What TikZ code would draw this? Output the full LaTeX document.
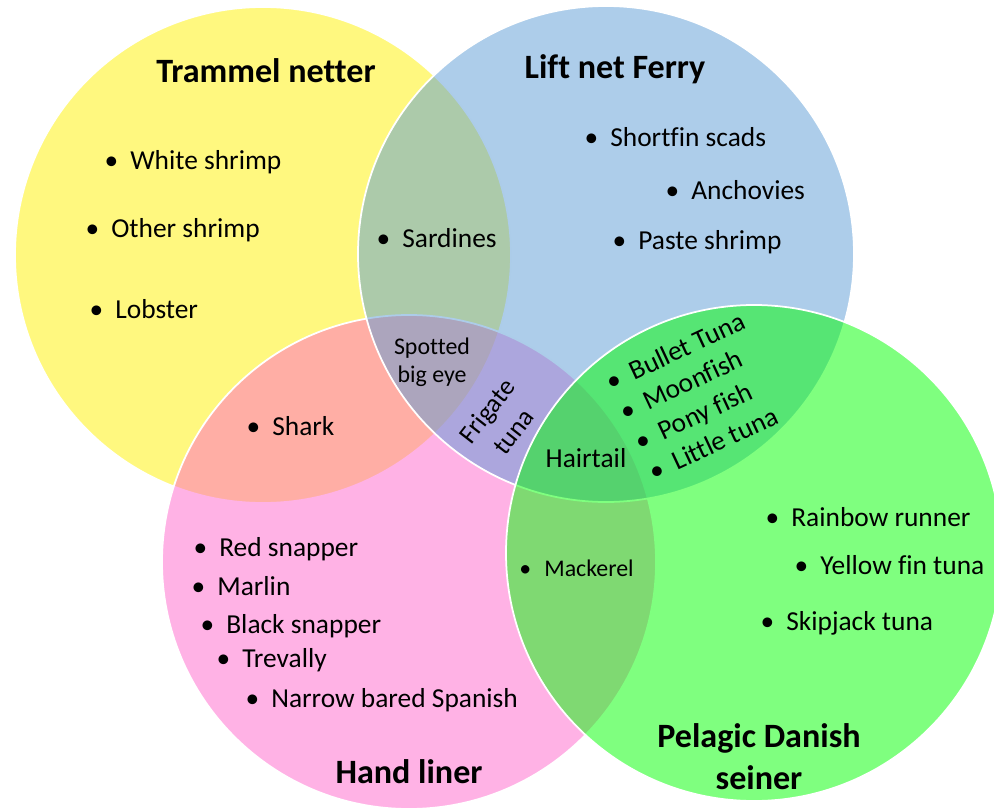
\documentclass[tikz,border=0pt]{standalone}
\usepackage{fontspec}
\setmainfont{Carlito}[Ligatures=NoCommon]
\newcommand{\itm}[1]{\makebox[0pt]{\textbullet}\hspace{10.8pt}#1}
\tikzset{
  set/.style={draw=white, line width=1pt, fill opacity=0.5},
  title/.style={font=\bfseries\fontsize{19.4}{24}\selectfont, inner sep=0pt},
  fish/.style={anchor=west, inner sep=0pt, text height=13pt, text depth=2pt,
    font=\fontsize{15.6}{18}\selectfont},
  small/.style={inner sep=0pt, font=\fontsize{13.6}{16}\selectfont},
}
\definecolor{setblue}{HTML}{5B9BD5}
\definecolor{setpink}{HTML}{FF66CC}
\definecolor{setgreen}{HTML}{00FF00}
\begin{document}
\begin{tikzpicture}[x=0.02cm, y=-0.02cm]
  \useasboundingbox (0,0) rectangle (994,808);
  \clip (0,0) rectangle (994,808);
  % the four sets
  \draw[set, fill=yellow] (263,255) circle[radius=248];
  \draw[set, fill=setpink] (409,562) circle[radius=247];
  \draw[set, fill=setblue] (606,254) circle[radius=248];
  \draw[set, fill=setgreen] (754,553) circle[radius=248];
  % titles
  \node[title, anchor=base] (trammel) at (266,82) {Trammel netter};
  \node[title, anchor=base] (liftnet) at (615,78) {Lift net Ferry};
  \node[title, anchor=base] (handliner) at (409,783) {Hand liner};
  \node[title, align=center] (pelagic) at (759,757) {Pelagic Danish\\seiner};
  % Trammel netter
  \node[fish] (whiteshrimp) at (111,160) {\itm{White shrimp}};
  \node[fish] (othershrimp) at (92,228) {\itm{Other shrimp}};
  \node[fish] (lobster) at (96,309) {\itm{Lobster}};
  \node[fish] (sardines) at (383,238) {\itm{Sardines}};
  % Lift net Ferry
  \node[fish] (shortfin) at (591,137) {\itm{Shortfin scads}};
  \node[fish] (anchovies) at (672,190) {\itm{Anchovies}};
  \node[fish] (paste) at (619,240) {\itm{Paste shrimp}};
  % overlaps in the middle
  \node[fish] (shark) at (253,426) {\itm{Shark}};
  \node[small, align=center] (bigeye) at (432,362) {Spotted\\big eye};
  \node[inner sep=0pt, font=\fontsize{15}{19}\selectfont, align=center, rotate=52]
    (frigate) at (500,421) {Frigate\\tuna};
  \node[fish, anchor=base] (hairtail) at (586,467) {Hairtail};
  \node[fish, small, anchor=west] (mackerel) at (525,567) {\itm{Mackerel}};
  \node[fish, rotate=25] (bullet) at (613,380) {\itm{Bullet Tuna}};
  \node[fish, rotate=25] (moonfish) at (627,410) {\itm{Moonfish}};
  \node[fish, rotate=25] (ponyfish) at (642,440) {\itm{Pony fish}};
  \node[fish, rotate=25] (littletuna) at (656,470) {\itm{Little tuna}};
  % Hand liner
  \node[fish] (redsnapper) at (200,547) {\itm{Red snapper}};
  \node[fish] (marlin) at (198,586) {\itm{Marlin}};
  \node[fish] (blacksnapper) at (207,624) {\itm{Black snapper}};
  \node[fish] (trevally) at (223,658) {\itm{Trevally}};
  \node[fish] (spanish) at (252,698) {\itm{Narrow bared Spanish}};
  % Pelagic Danish seiner
  \node[fish] (rainbow) at (772,517) {\itm{Rainbow runner}};
  \node[fish] (yellowfin) at (801,565) {\itm{Yellow fin tuna}};
  \node[fish] (skipjack) at (767,621) {\itm{Skipjack tuna}};
\end{tikzpicture}
\end{document}
